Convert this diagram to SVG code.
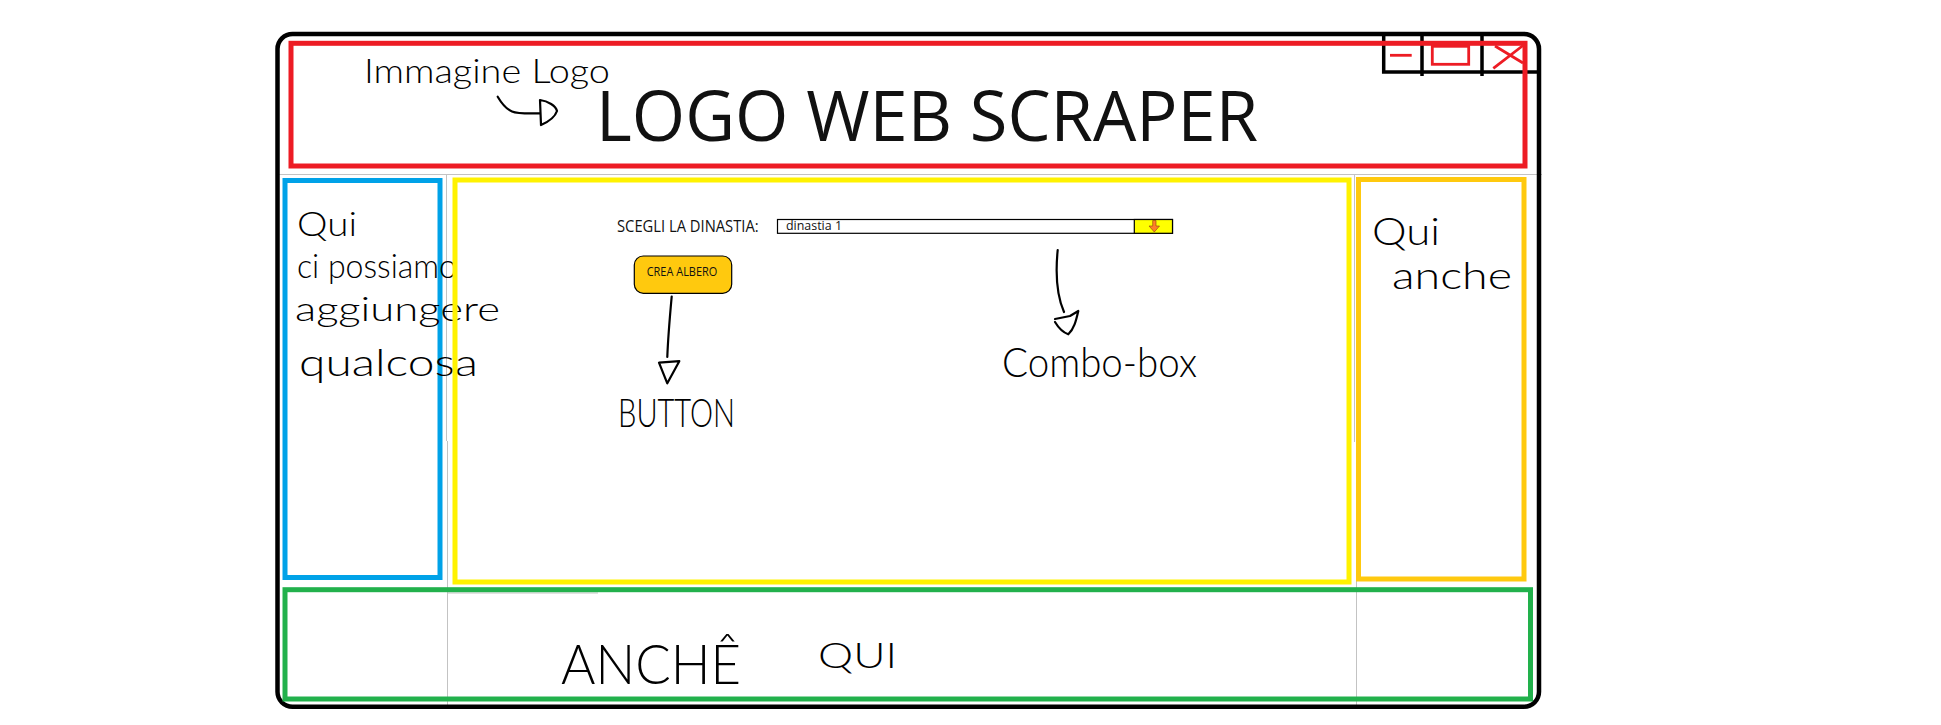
<svg xmlns="http://www.w3.org/2000/svg" width="1941" height="725" viewBox="0 0 1941 725">
  <style>
    .frame { fill: none; stroke: #000; stroke-width: 4.5; }
    .panel { fill: none; stroke-width: 5; }
    .guide { stroke: #c3c3c3; stroke-width: 1; fill: none; }
    .ctl { stroke: #000; stroke-width: 3.5; fill: none; }
    .ctl-red { stroke: #ed1c24; stroke-width: 2.8; fill: none; }
    .hand { font-family: Lato, "Open Sans", sans-serif; font-weight: 300; fill: #000; }
    .ui { font-family: "Open Sans", "Noto Sans", sans-serif; fill: #111; }
    .ink { fill: none; stroke: #000; stroke-width: 2.2; stroke-linecap: round; stroke-linejoin: round; }
  </style>

  <rect width="1941" height="725" fill="#fff"/>

  <!-- light layout guides -->
  <g id="guides">
    <line class="guide" x1="279" y1="174.5" x2="1542" y2="174.5"/>
    <line class="guide" x1="446.5" y1="175" x2="446.5" y2="441"/>
    <line class="guide" x1="447.5" y1="441" x2="447.5" y2="708"/>
    <line class="guide" x1="1354.5" y1="175" x2="1354.5" y2="442"/>
    <line class="guide" x1="1356.5" y1="442" x2="1356.5" y2="708"/>
    <line class="guide" x1="447" y1="593" x2="598" y2="593"/>
  </g>

  <!-- application window -->
  <g id="window">
    <rect class="frame" x="277.5" y="34" width="1261.5" height="672.7" rx="15"/>
  </g>

  <!-- title bar buttons -->
  <g id="window-controls">
    <path class="ctl" d="M1383.7 34 V72 H1538 M1422 34 V76 M1482 34 V76"/>
    <line class="ctl-red" x1="1390" y1="55.3" x2="1411.7" y2="55.3"/>
    <rect class="ctl-red" x="1432.3" y="46.3" width="36.4" height="18"/>
    <path class="ctl-red" d="M1493.3 68.3 L1523 45.5 M1495 46 L1523 63"/>
  </g>

  <!-- header -->
  <g id="header">
    <rect class="panel" stroke="#ed1c24" x="291" y="43.3" width="1234" height="122.7"/>
    <text class="ui" x="596" y="141" font-size="69" fill="#000" textLength="662" lengthAdjust="spacingAndGlyphs">LOGO WEB SCRAPER</text>
    <text class="hand" x="364" y="83" font-size="34" textLength="246" lengthAdjust="spacingAndGlyphs">Immagine Logo</text>
  </g>

  <!-- left column -->
  <g id="sidebar-left">
    <rect class="panel" stroke="#00a2e8" x="285" y="180.5" width="155" height="397"/>
    <text class="hand" x="297" y="236" font-size="34" textLength="60" lengthAdjust="spacingAndGlyphs">Qui</text>
    <text class="hand" x="297" y="278" font-size="34" textLength="160" lengthAdjust="spacingAndGlyphs">ci possiamo</text>
    <text class="hand" x="295" y="321" font-size="34" textLength="205" lengthAdjust="spacingAndGlyphs">aggiungere</text>
    <text class="hand" x="299" y="376" font-size="38" textLength="179" lengthAdjust="spacingAndGlyphs">qualcosa</text>
  </g>

  <!-- main content -->
  <g id="content">
    <rect class="panel" stroke="#fff200" x="455" y="180" width="894" height="402"/>
    <text class="ui" x="617" y="232.3" font-size="16" textLength="141.6" lengthAdjust="spacingAndGlyphs">SCEGLI LA DINASTIA:</text>
  </g>

  <g id="combobox">
    <rect x="777.5" y="219.5" width="395" height="13.8" fill="#fff" stroke="#000" stroke-width="1.2"/>
    <rect x="1134.3" y="219.5" width="38.2" height="13.8" fill="#ffff00" stroke="#000" stroke-width="1.2"/>
    <text class="ui" x="786" y="230" font-size="12" textLength="56" lengthAdjust="spacingAndGlyphs">dinastia 1</text>
    <path d="M1152.7 220.5 H1156 V226 H1159.5 L1154.3 232 L1149 226 H1152.7 Z" fill="#ff7f27" stroke="#8a3e0e" stroke-width="0.6"/>
  </g>

  <g id="button">
    <rect x="634.3" y="256" width="97.4" height="37.3" rx="9" fill="#ffc90e" stroke="#000" stroke-width="1.2"/>
    <text class="ui" x="646.7" y="276" font-size="12.5" fill="#141450" textLength="70.6" lengthAdjust="spacingAndGlyphs">CREA ALBERO</text>
  </g>

  <g id="label-button">
    <text class="hand" x="618" y="427" font-size="40" textLength="117" lengthAdjust="spacingAndGlyphs">BUTTON</text>
  </g>

  <g id="label-combobox">
    <text class="hand" x="1002" y="377" font-size="42" textLength="195" lengthAdjust="spacingAndGlyphs">Combo-box</text>
  </g>

  <!-- right column -->
  <g id="sidebar-right">
    <rect class="panel" stroke="#ffc90e" x="1358.5" y="179.5" width="165.5" height="399.5"/>
    <text class="hand" x="1372" y="245" font-size="38" textLength="68" lengthAdjust="spacingAndGlyphs">Qui</text>
    <text class="hand" x="1392" y="289" font-size="38" textLength="120" lengthAdjust="spacingAndGlyphs">anche</text>
  </g>

  <!-- footer -->
  <g id="footer">
    <rect class="panel" stroke="#22b14c" x="285" y="589.7" width="1245.5" height="109.3"/>
    <text class="hand" x="561" y="684" font-size="56" textLength="180" lengthAdjust="spacingAndGlyphs">ANCHÊ</text>
    <text class="hand" x="818" y="668" font-size="36" textLength="79" lengthAdjust="spacingAndGlyphs">QUI</text>
  </g>

  <!-- hand-drawn pointers -->
  <g id="connectors">
    <path class="ink" d="M497.7 96.7 C502 104, 506 109, 512 111.5 C518 114, 530 113.5, 540 113.3"/>
    <path class="ink" d="M541 125 L540 100 C548 101, 556 106, 557 111 C555 117, 548 122, 541 125 Z"/>

    <path class="ink" d="M671.7 296.5 C670 315, 668 338, 667.3 357"/>
    <path class="ink" d="M659 362.7 L679.3 361.2 L667.3 383.3 Z"/>

    <path class="ink" d="M1057.7 250 C1055.5 272, 1057 296, 1064 312"/>
    <path class="ink" d="M1055 319 L1070 316 L1078.3 311 C1076 321, 1074 329, 1068.3 334.3 C1062 332, 1058 327, 1055 322"/>
  </g>
</svg>
